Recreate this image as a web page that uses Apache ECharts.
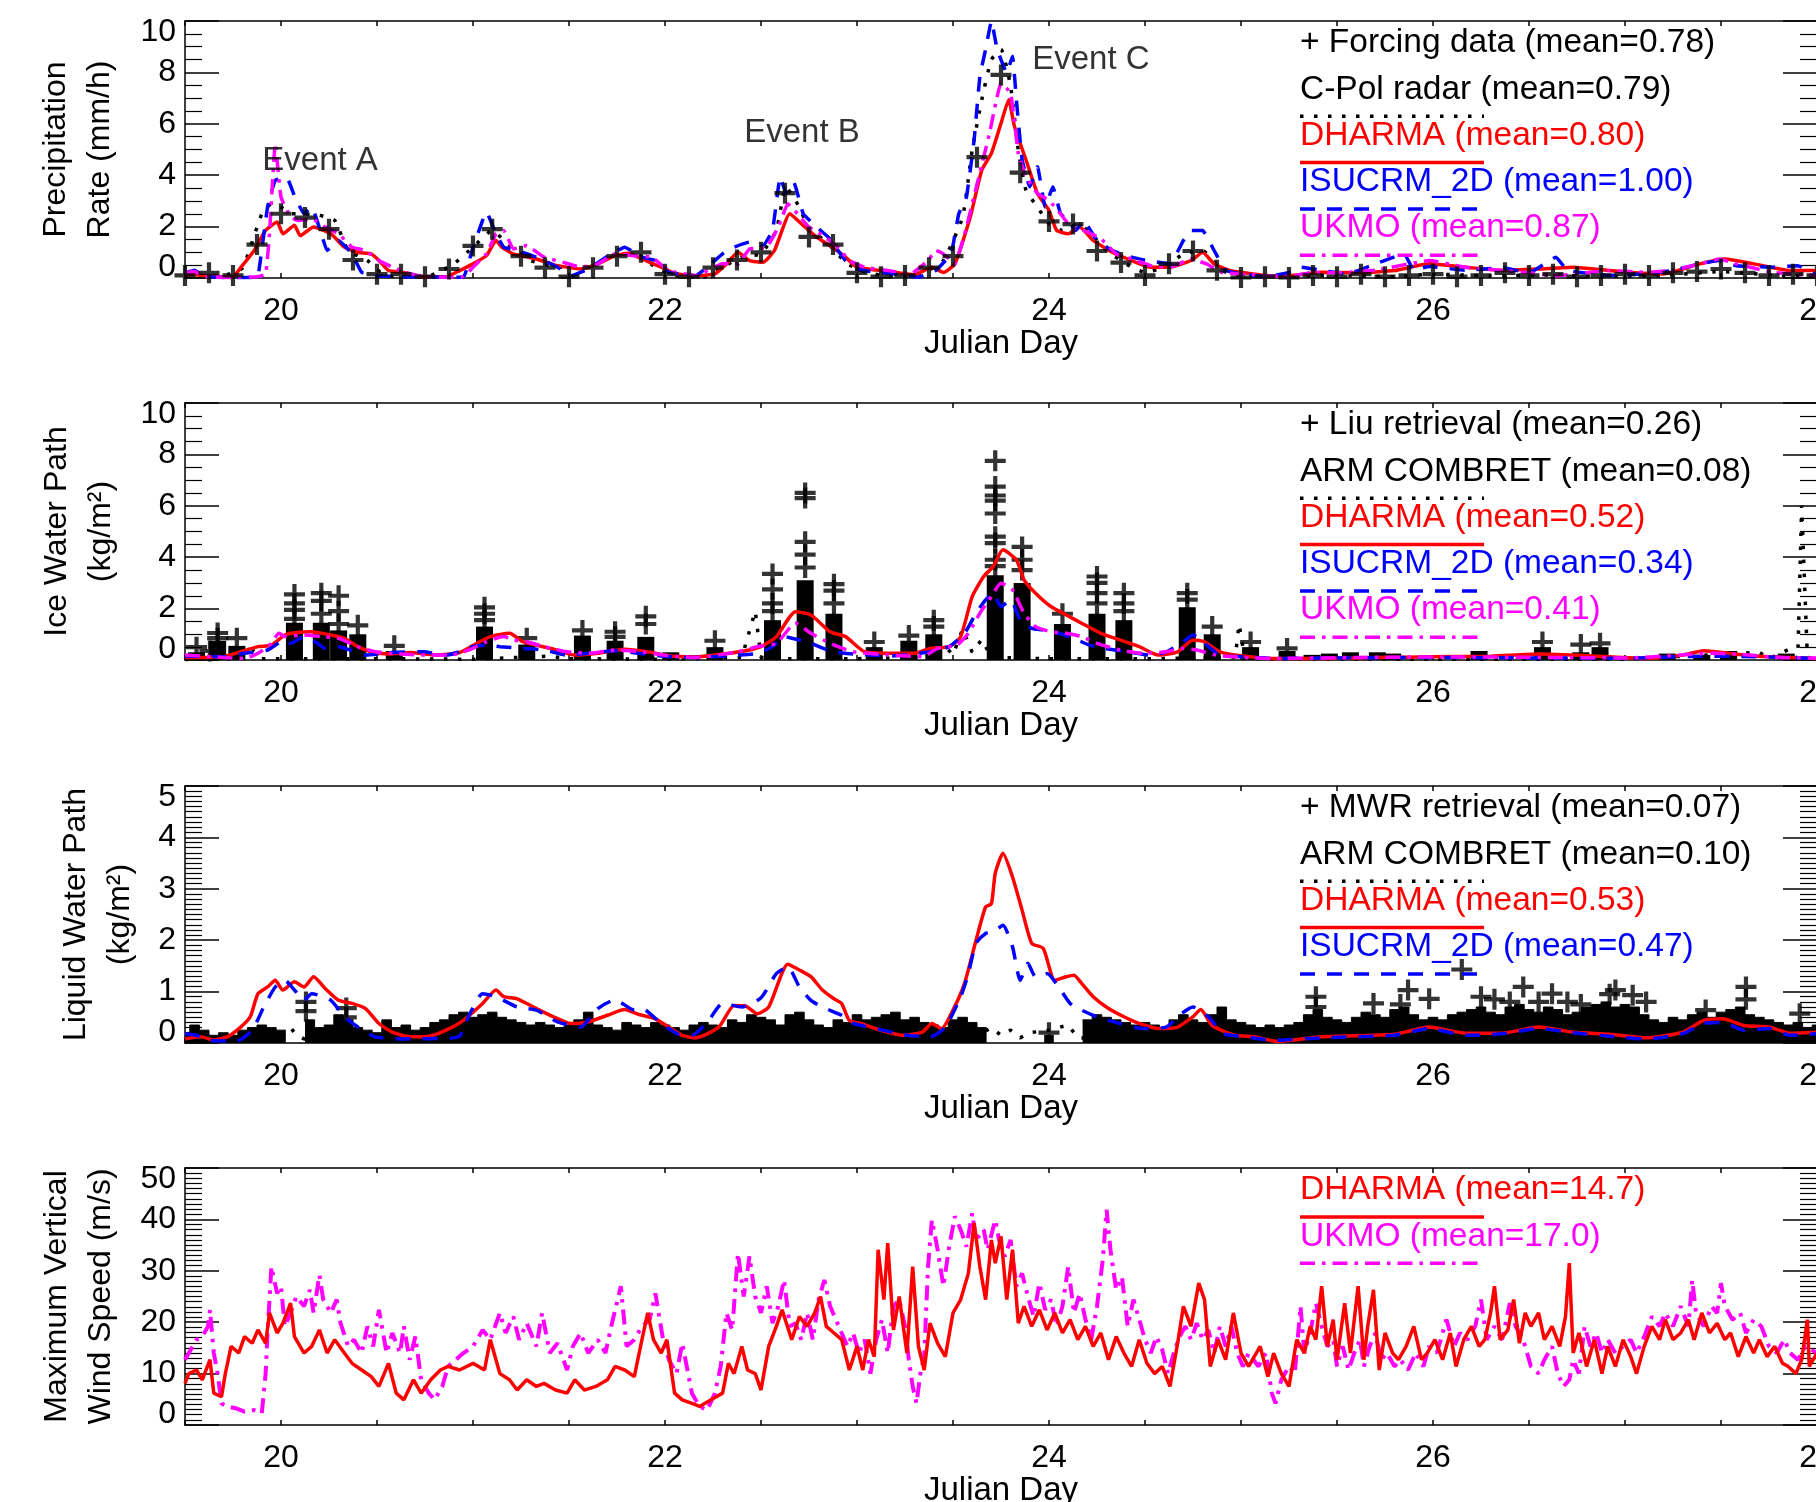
<!DOCTYPE html>
<html>
<head>
<meta charset="utf-8">
<script src="https://cdn.jsdelivr.net/npm/echarts@6/dist/echarts.min.js"></script>
<style>
  html, body { margin: 0; padding: 0; background: #fff; }
  #chart { width: 1816px; height: 1502px; }
</style>
</head>
<body>
<div id="chart"></div>
<script>
// ---------- panel 1: precipitation rate (mm/h) ----------
const prForcing = [[19.5,0.1],[19.625,0.2],[19.75,0.1],[19.875,1.3],[20.0,2.5],[20.125,2.35],[20.25,1.9],[20.375,0.7],[20.5,0.15],[20.625,0.15],[20.75,0.05],[20.875,0.35],[21.0,1.25],[21.1,1.9],[21.25,0.85],[21.375,0.4],[21.5,0.05],[21.625,0.4],[21.75,0.85],[21.875,1.0],[22.0,0.15],[22.125,0.05],[22.25,0.4],[22.375,0.7],[22.5,1.0],[22.625,3.3],[22.75,1.6],[22.875,1.3],[23.0,0.2],[23.125,0.05],[23.25,0.1],[23.375,0.4],[23.5,0.85],[23.625,4.7],[23.75,7.9],[23.85,4.1],[24.0,2.2],[24.125,2.1],[24.25,1.05],[24.375,0.6],[24.5,0.1],[24.625,0.55],[24.75,1.05],[24.875,0.3],[25.0,0.02],[25.125,0.05],[25.25,0.02],[25.375,0.1],[25.5,0.05],[25.625,0.15],[25.75,0.05],[25.875,0.1],[26.0,0.15],[26.125,0.05],[26.25,0.1],[26.375,0.2],[26.5,0.1],[26.625,0.15],[26.75,0.05],[26.875,0.1],[27.0,0.15],[27.125,0.1],[27.25,0.2],[27.375,0.25],[27.5,0.35],[27.625,0.2],[27.75,0.1],[27.875,0.15],[28.0,0.1]];
const prCpol = [[19.5,0.1],[19.7,0.1],[19.8,0.4],[19.9,2.5],[19.95,2.89],[20.0,2.76],[20.05,2.5],[20.1,2.5],[20.2,2.44],[20.28,2.24],[20.35,1.07],[20.45,0.68],[20.52,0.22],[20.6,0.03],[20.75,0.03],[20.9,0.55],[21.0,1.2],[21.1,1.85],[21.18,1.33],[21.3,0.68],[21.45,0.42],[21.6,0.42],[21.75,0.94],[21.85,0.94],[21.95,0.42],[22.05,0.09],[22.2,0.03],[22.3,0.42],[22.4,0.81],[22.5,0.94],[22.58,1.85],[22.63,3.55],[22.68,3.02],[22.75,1.98],[22.85,1.33],[22.95,0.55],[23.05,0.22],[23.2,0.03],[23.35,0.22],[23.45,0.68],[23.55,2.37],[23.6,4.98],[23.65,6.94],[23.7,8.5],[23.75,8.9],[23.8,7.46],[23.84,4.98],[23.88,3.42],[23.94,2.76],[24.0,2.11],[24.07,1.85],[24.15,2.11],[24.22,1.72],[24.3,1.07],[24.4,0.55],[24.5,0.22],[24.6,0.42],[24.7,0.94],[24.8,1.07],[24.9,0.29],[25.0,0.09],[25.2,0.05],[25.5,0.1],[25.8,0.05],[26.0,0.15],[26.3,0.08],[26.6,0.12],[26.9,0.06],[27.2,0.1],[27.5,0.25],[27.8,0.1],[28.0,0.08]];
const prDharma = [[19.5,0.15],[19.6,0.1],[19.7,0.05],[19.75,0.05],[19.79,0.4],[19.86,1.07],[19.92,1.85],[19.98,2.18],[20.01,1.72],[20.07,2.05],[20.1,1.65],[20.17,1.98],[20.26,1.72],[20.33,1.2],[20.4,1.0],[20.47,0.94],[20.51,0.68],[20.56,0.29],[20.63,0.22],[20.74,0.05],[20.86,0.05],[20.93,0.29],[21.0,0.55],[21.07,0.87],[21.12,1.46],[21.15,1.2],[21.21,0.94],[21.33,0.74],[21.44,0.48],[21.56,0.35],[21.65,0.55],[21.74,0.87],[21.81,0.96],[21.88,0.74],[21.98,0.42],[22.05,0.18],[22.16,0.09],[22.26,0.16],[22.32,0.55],[22.38,1.0],[22.44,0.68],[22.51,0.61],[22.57,1.07],[22.65,2.5],[22.71,2.11],[22.79,1.59],[22.87,1.2],[22.94,0.81],[23.0,0.42],[23.1,0.31],[23.2,0.22],[23.3,0.13],[23.39,0.42],[23.45,0.22],[23.51,0.55],[23.59,2.37],[23.65,4.2],[23.7,4.85],[23.75,6.02],[23.79,6.94],[23.82,5.9],[23.88,4.6],[23.94,3.29],[24.0,2.63],[24.04,1.85],[24.1,1.72],[24.16,1.98],[24.23,1.46],[24.33,1.0],[24.43,0.68],[24.53,0.42],[24.63,0.42],[24.74,0.68],[24.8,1.0],[24.86,0.55],[24.94,0.29],[25.04,0.18],[25.15,0.09],[25.25,0.09],[25.42,0.22],[25.6,0.2],[25.8,0.29],[25.98,0.55],[26.17,0.42],[26.35,0.3],[26.55,0.35],[26.73,0.42],[26.92,0.29],[27.05,0.2],[27.2,0.16],[27.39,0.55],[27.52,0.74],[27.67,0.55],[27.86,0.29],[28.0,0.29]];
const prIsu = [[19.5,0.2],[19.55,0.3],[19.6,0.05],[19.7,0.02],[19.85,0.02],[19.88,0.05],[19.93,2.76],[19.97,3.8],[20.03,3.9],[20.07,3.2],[20.12,2.5],[20.16,2.76],[20.21,1.72],[20.24,1.07],[20.3,1.46],[20.37,0.94],[20.42,0.22],[20.49,0.09],[20.63,0.05],[20.86,0.03],[20.95,0.03],[21.0,1.2],[21.05,2.24],[21.07,2.57],[21.12,1.72],[21.16,1.2],[21.23,1.07],[21.33,0.81],[21.44,0.42],[21.51,0.09],[21.6,0.35],[21.72,0.94],[21.79,1.2],[21.88,0.81],[21.95,0.68],[22.02,0.22],[22.16,0.09],[22.22,0.42],[22.3,0.94],[22.36,1.2],[22.44,1.4],[22.51,1.26],[22.56,1.85],[22.6,3.94],[22.63,3.29],[22.67,3.74],[22.72,2.5],[22.79,1.98],[22.85,1.59],[22.94,0.68],[23.0,0.35],[23.1,0.22],[23.2,0.16],[23.32,0.03],[23.41,0.29],[23.49,0.94],[23.53,2.5],[23.57,3.15],[23.61,5.37],[23.64,7.85],[23.67,8.9],[23.7,10.0],[23.73,8.9],[23.78,7.98],[23.81,8.63],[23.83,6.94],[23.86,4.6],[23.9,3.55],[23.94,4.33],[23.98,2.76],[24.02,3.55],[24.06,2.5],[24.1,2.24],[24.14,1.85],[24.18,2.24],[24.25,1.46],[24.33,1.07],[24.43,0.81],[24.51,0.68],[24.63,0.55],[24.7,1.46],[24.74,1.85],[24.8,1.85],[24.86,1.07],[24.92,0.29],[25.0,0.16],[25.13,0.05],[25.25,0.22],[25.31,0.42],[25.42,0.3],[25.55,0.15],[25.7,0.55],[25.85,0.94],[25.9,0.3],[25.98,0.45],[26.17,0.3],[26.36,0.4],[26.5,0.2],[26.64,0.81],[26.7,0.3],[26.92,0.1],[27.11,0.16],[27.25,0.3],[27.39,0.55],[27.49,0.68],[27.58,0.48],[27.77,0.42],[27.9,0.48],[28.0,0.1]];
const prUkmo = [[19.5,0.2],[19.55,0.25],[19.6,0.05],[19.75,0.02],[19.88,0.05],[19.92,0.16],[19.94,1.72],[19.97,5.24],[20.0,3.15],[20.05,2.37],[20.09,2.24],[20.16,2.3],[20.23,1.98],[20.3,1.72],[20.37,1.2],[20.44,1.07],[20.51,0.68],[20.58,0.42],[20.65,0.22],[20.74,0.05],[20.86,0.03],[20.95,0.05],[21.0,0.42],[21.07,0.94],[21.12,1.72],[21.16,1.85],[21.21,1.13],[21.28,1.26],[21.37,0.81],[21.47,0.61],[21.56,0.42],[21.65,0.55],[21.74,0.94],[21.84,0.87],[21.93,0.81],[22.02,0.29],[22.16,0.09],[22.3,0.55],[22.38,0.55],[22.44,1.13],[22.53,1.2],[22.59,1.98],[22.64,2.89],[22.69,2.5],[22.75,1.98],[22.81,1.72],[22.9,1.2],[22.96,0.68],[23.04,0.42],[23.16,0.29],[23.28,0.16],[23.37,0.68],[23.41,1.07],[23.45,0.94],[23.51,0.55],[23.57,1.98],[23.63,3.8],[23.69,5.63],[23.75,7.59],[23.8,7.2],[23.84,4.85],[23.88,3.94],[23.94,3.29],[24.0,3.02],[24.06,2.5],[24.12,1.92],[24.18,1.85],[24.27,1.53],[24.35,0.94],[24.43,0.74],[24.53,0.48],[24.63,0.42],[24.74,0.74],[24.82,0.55],[24.9,0.22],[25.04,0.13],[25.25,0.05],[25.37,0.22],[25.5,0.2],[25.7,0.3],[25.98,0.68],[26.17,0.42],[26.36,0.29],[26.5,0.2],[26.64,0.09],[26.8,0.2],[26.92,0.29],[27.11,0.22],[27.25,0.3],[27.39,0.55],[27.49,0.74],[27.58,0.55],[27.77,0.22],[28.0,0.09]];
const eventLabels = [[19.9,4.57,'Event A'],[22.41,5.63,'Event B'],[23.91,8.48,'Event C']];

// ---------- panel 2: ice water path (kg/m2) ----------
// Liu retrieval: dense stacks of crosses (solid part) + the crosses that stick out
const iwpLiuCols = [[19.56,0.3],[19.67,0.75],[19.77,0.55],[20.07,1.45],[20.21,1.45],[20.3,1.15],[20.4,1.0],[20.59,0.35],[21.06,1.3],[21.28,0.6],[21.57,0.95],[21.74,0.75],[21.9,0.9],[22.03,0.3],[22.26,0.5],[22.56,1.55],[22.73,3.1],[22.88,1.8],[23.09,0.5],[23.27,0.75],[23.4,1.0],[23.72,3.3],[23.86,3.0],[24.07,1.4],[24.25,1.8],[24.39,1.55],[24.72,2.05],[24.85,1.0],[25.05,0.5],[25.24,0.35],[25.37,0.2],[25.46,0.25],[25.57,0.3],[25.71,0.3],[25.79,0.25],[26.24,0.35],[26.57,0.5],[26.77,0.3],[26.87,0.5],[27.22,0.25],[27.4,0.2],[27.54,0.35],[27.84,0.25]];
const iwpLiuCross = [[19.56,0.5],[19.63,0.35],[19.67,1.05],[19.67,0.85],[19.77,0.85],[20.07,1.95],[20.07,2.2],[20.07,2.55],[20.07,1.6],[20.21,2.3],[20.21,2.6],[20.21,1.8],[20.3,2.5],[20.3,1.9],[20.3,1.4],[20.4,1.35],[20.59,0.55],[21.06,1.8],[21.06,2.05],[21.06,1.55],[21.28,0.85],[21.57,1.15],[21.74,1.1],[21.74,0.9],[21.9,1.4],[21.9,1.7],[22.26,0.75],[22.56,2.2],[22.56,2.75],[22.56,3.35],[22.56,1.9],[22.73,3.6],[22.73,4.1],[22.73,4.6],[22.73,6.3],[22.73,6.5],[22.88,2.7],[22.88,2.95],[22.88,2.2],[23.09,0.7],[23.27,0.95],[23.4,1.3],[23.4,1.55],[23.72,3.65],[23.72,3.9],[23.72,4.55],[23.72,4.8],[23.72,5.7],[23.72,6.2],[23.72,6.4],[23.72,6.75],[23.72,7.75],[23.86,3.5],[23.86,3.9],[23.86,4.4],[24.07,1.8],[24.25,2.2],[24.25,2.6],[24.25,3.0],[24.25,3.25],[24.39,2.2],[24.39,2.6],[24.39,1.9],[24.72,2.35],[24.72,2.6],[24.85,1.3],[25.05,0.7],[25.24,0.45],[26.57,0.7],[26.77,0.6],[26.87,0.65]];
const iwpArm = [[19.5,0.02],[19.8,0.05],[19.85,0.4],[19.9,0.05],[20.5,0.05],[21.0,0.03],[21.4,0.15],[21.5,0.05],[22.0,0.03],[22.4,0.1],[22.47,1.9],[22.5,0.1],[22.6,0.05],[23.0,0.05],[23.3,0.1],[23.4,0.15],[23.45,0.6],[23.5,0.2],[23.55,1.2],[23.6,0.3],[23.65,0.8],[23.7,0.1],[24.0,0.05],[24.5,0.05],[24.97,0.1],[24.99,1.4],[25.02,0.05],[26.0,0.03],[27.0,0.03],[27.7,0.3],[27.75,0.05],[27.85,0.4],[27.9,0.05],[27.92,6.0],[27.95,0.1],[28.0,0.05]];
const iwpDharma = [[19.5,0.1],[19.7,0.13],[19.79,0.32],[19.88,0.52],[19.95,0.58],[20.02,0.97],[20.07,1.06],[20.16,1.1],[20.26,0.97],[20.33,0.84],[20.4,0.52],[20.47,0.32],[20.56,0.23],[20.67,0.29],[20.81,0.19],[20.93,0.29],[21.02,0.65],[21.09,0.91],[21.19,1.04],[21.26,0.71],[21.33,0.58],[21.42,0.42],[21.53,0.19],[21.65,0.26],[21.79,0.42],[21.91,0.32],[22.02,0.16],[22.16,0.13],[22.3,0.23],[22.42,0.36],[22.5,0.52],[22.58,0.91],[22.68,1.88],[22.76,1.75],[22.86,1.1],[22.94,0.91],[23.04,0.32],[23.18,0.26],[23.3,0.26],[23.38,0.45],[23.48,0.52],[23.54,0.91],[23.6,2.47],[23.66,3.25],[23.71,3.64],[23.76,4.29],[23.83,3.9],[23.87,3.12],[23.93,2.6],[24.01,2.08],[24.09,1.75],[24.17,1.43],[24.27,1.04],[24.37,0.78],[24.47,0.52],[24.57,0.19],[24.67,0.32],[24.75,0.78],[24.81,0.71],[24.89,0.32],[25.01,0.16],[25.17,0.06],[25.42,0.06],[25.98,0.13],[26.3,0.15],[26.55,0.23],[26.83,0.16],[27.11,0.06],[27.3,0.19],[27.41,0.36],[27.54,0.26],[27.67,0.16],[27.86,0.1],[28.0,0.06]];
const iwpIsu = [[19.5,0.16],[19.7,0.13],[19.81,0.26],[19.93,0.39],[20.02,0.78],[20.05,0.65],[20.12,0.91],[20.19,0.65],[20.23,0.45],[20.3,0.52],[20.37,0.36],[20.44,0.19],[20.58,0.29],[20.74,0.32],[20.86,0.19],[20.93,0.32],[21.0,0.52],[21.07,0.58],[21.14,0.52],[21.26,0.45],[21.37,0.39],[21.49,0.19],[21.6,0.26],[21.74,0.36],[21.86,0.26],[22.02,0.13],[22.16,0.1],[22.38,0.19],[22.48,0.26],[22.56,0.52],[22.62,0.91],[22.7,0.78],[22.76,0.65],[22.86,0.36],[22.98,0.23],[23.18,0.16],[23.38,0.32],[23.48,0.52],[23.56,1.04],[23.62,1.82],[23.67,2.34],[23.71,2.6],[23.75,2.08],[23.8,2.34],[23.85,1.56],[23.91,1.23],[23.97,1.17],[24.05,1.04],[24.13,0.84],[24.21,0.58],[24.29,0.45],[24.41,0.32],[24.53,0.19],[24.61,0.32],[24.69,0.65],[24.75,0.97],[24.81,0.65],[24.89,0.19],[25.01,0.13],[25.17,0.06],[25.5,0.08],[26.0,0.1],[26.5,0.08],[27.0,0.07],[27.4,0.15],[27.6,0.14],[28.0,0.06]];
const iwpUkmo = [[19.5,0.19],[19.7,0.1],[19.81,0.06],[19.88,0.26],[19.95,0.65],[19.99,1.04],[20.02,0.91],[20.12,0.97],[20.21,0.91],[20.3,0.84],[20.4,0.52],[20.49,0.32],[20.63,0.23],[20.77,0.19],[20.88,0.19],[20.98,0.39],[21.07,0.71],[21.16,0.91],[21.21,0.78],[21.28,0.71],[21.37,0.52],[21.49,0.32],[21.6,0.26],[21.74,0.39],[21.88,0.32],[22.02,0.16],[22.16,0.1],[22.38,0.32],[22.48,0.52],[22.58,0.65],[22.68,1.43],[22.76,1.04],[22.86,0.65],[22.98,0.32],[23.18,0.19],[23.34,0.13],[23.42,0.45],[23.52,0.58],[23.58,1.04],[23.64,1.82],[23.7,2.47],[23.75,2.99],[23.81,2.73],[23.87,1.82],[23.93,1.3],[24.01,1.1],[24.09,1.04],[24.17,0.91],[24.25,0.65],[24.37,0.39],[24.49,0.26],[24.61,0.32],[24.69,0.45],[24.77,0.39],[24.87,0.19],[25.01,0.1],[25.17,0.06],[25.6,0.1],[26.1,0.12],[26.6,0.1],[27.0,0.08],[27.3,0.2],[27.45,0.26],[27.6,0.22],[27.8,0.1],[28.0,0.08]];

// ---------- panel 3: liquid water path (kg/m2) ----------
// MWR retrieval: upper edge of the dense black band (null = gap), plus crosses above it
const lwpMwrBand = [[19.5,0.2],[19.55,0.35],[19.6,0.25],[19.65,0.15],[19.7,0.2],[19.75,0.15],[19.8,0.25],[19.85,0.3],[19.9,0.35],[19.95,0.3],[20.0,0.25],[20.05,null],[20.1,null],[20.15,0.45],[20.2,0.3],[20.25,0.35],[20.3,0.55],[20.35,0.45],[20.4,0.3],[20.45,0.25],[20.5,0.2],[20.55,0.45],[20.6,0.3],[20.65,0.35],[20.7,0.25],[20.75,0.3],[20.8,0.4],[20.85,0.45],[20.9,0.55],[20.95,0.6],[21.0,0.5],[21.05,0.55],[21.1,0.6],[21.15,0.5],[21.2,0.45],[21.25,0.4],[21.3,0.35],[21.35,0.4],[21.4,0.35],[21.45,0.3],[21.5,0.35],[21.55,0.45],[21.6,0.6],[21.65,0.35],[21.7,0.3],[21.75,0.25],[21.8,0.4],[21.85,0.35],[21.9,0.3],[21.95,0.4],[22.0,0.35],[22.05,0.3],[22.1,0.25],[22.15,0.35],[22.2,0.4],[22.25,0.35],[22.3,0.3],[22.35,0.45],[22.4,0.4],[22.45,0.55],[22.5,0.5],[22.55,0.45],[22.6,0.35],[22.65,0.55],[22.7,0.6],[22.75,0.45],[22.8,0.35],[22.85,0.3],[22.9,0.45],[22.95,0.4],[23.0,0.55],[23.05,0.45],[23.1,0.5],[23.15,0.55],[23.2,0.6],[23.25,0.45],[23.3,0.5],[23.35,0.4],[23.4,0.35],[23.45,0.3],[23.5,0.45],[23.55,0.5],[23.6,0.4],[23.65,0.3],[23.7,null],[23.75,null],[23.8,null],[23.85,null],[23.9,null],[23.95,null],[24.0,0.15],[24.05,null],[24.1,null],[24.15,null],[24.2,0.45],[24.25,0.55],[24.3,0.5],[24.35,0.45],[24.4,0.4],[24.45,0.35],[24.5,0.4],[24.55,0.35],[24.6,0.3],[24.65,0.45],[24.7,0.55],[24.75,0.45],[24.8,0.4],[24.85,0.55],[24.9,0.7],[24.95,0.45],[25.0,0.4],[25.05,0.35],[25.1,0.3],[25.15,0.35],[25.2,0.3],[25.25,0.35],[25.3,0.4],[25.35,0.55],[25.4,0.65],[25.45,0.5],[25.5,0.45],[25.55,0.4],[25.6,0.5],[25.65,0.6],[25.7,0.55],[25.75,0.5],[25.8,0.65],[25.85,0.7],[25.9,0.55],[25.95,0.45],[26.0,0.5],[26.05,0.45],[26.1,0.55],[26.15,0.6],[26.2,0.65],[26.25,0.7],[26.3,0.6],[26.35,0.55],[26.4,0.7],[26.45,0.75],[26.5,0.65],[26.55,0.6],[26.6,0.7],[26.65,0.65],[26.7,0.55],[26.75,0.6],[26.8,0.7],[26.85,0.75],[26.9,0.8],[26.95,0.7],[27.0,0.75],[27.05,0.7],[27.1,0.55],[27.15,0.45],[27.2,0.4],[27.25,0.5],[27.3,0.45],[27.35,0.55],[27.4,0.6],[27.45,0.5],[27.5,0.6],[27.55,0.65],[27.6,0.7],[27.65,0.55],[27.7,0.5],[27.75,0.45],[27.8,0.4],[27.85,0.35],[27.9,0.4],[27.95,0.3],[28.0,0.35]];
const lwpMwrCross = [[20.13,0.8],[20.13,0.62],[20.34,0.68],[20.34,0.5],[24.0,0.2],[25.39,0.9],[25.39,0.7],[25.69,0.77],[25.83,0.75],[25.87,1.03],[25.98,0.86],[26.15,1.43],[26.25,0.9],[26.32,0.85],[26.4,0.8],[26.47,1.09],[26.55,0.8],[26.62,0.96],[26.7,0.8],[26.77,0.75],[26.92,0.95],[26.95,1.03],[27.04,0.93],[27.11,0.8],[27.42,0.64],[27.63,1.09],[27.63,0.85],[27.91,0.57]];
const lwpArm = [[19.5,0.05],[19.8,0.06],[20.0,0.1],[20.05,0.3],[20.08,0.15],[20.12,0.08],[21.0,0.06],[22.0,0.05],[23.0,0.06],[23.6,0.08],[23.7,0.3],[23.75,0.15],[23.8,0.25],[23.85,0.1],[23.9,0.2],[24.0,0.25],[24.1,0.35],[24.15,0.1],[25.0,0.05],[26.0,0.04],[27.0,0.05],[28.0,0.05]];
const lwpDharma = [[19.5,0.08],[19.58,0.12],[19.65,0.06],[19.72,0.12],[19.79,0.31],[19.84,0.51],[19.88,0.96],[19.93,1.09],[19.97,1.22],[20.01,1.03],[20.07,1.19],[20.12,1.09],[20.17,1.29],[20.23,1.06],[20.3,0.83],[20.37,0.77],[20.44,0.67],[20.51,0.38],[20.58,0.21],[20.67,0.12],[20.77,0.13],[20.86,0.25],[20.95,0.44],[21.05,0.77],[21.12,1.03],[21.16,0.9],[21.23,0.86],[21.33,0.67],[21.42,0.51],[21.51,0.38],[21.6,0.41],[21.7,0.54],[21.79,0.65],[21.86,0.56],[21.95,0.47],[22.02,0.31],[22.09,0.15],[22.16,0.1],[22.28,0.31],[22.36,0.73],[22.42,0.72],[22.48,0.57],[22.54,0.7],[22.64,1.53],[22.7,1.42],[22.76,1.29],[22.82,1.03],[22.88,0.86],[22.92,0.77],[22.96,0.44],[23.02,0.38],[23.12,0.25],[23.24,0.15],[23.34,0.21],[23.39,0.38],[23.44,0.28],[23.5,0.64],[23.56,1.16],[23.62,2.0],[23.67,2.65],[23.7,2.71],[23.72,3.3],[23.76,3.69],[23.81,3.23],[23.86,2.58],[23.91,1.94],[23.97,1.84],[24.03,1.22],[24.09,1.29],[24.13,1.32],[24.17,1.16],[24.23,0.9],[24.31,0.67],[24.39,0.51],[24.47,0.38],[24.57,0.28],[24.67,0.31],[24.75,0.51],[24.79,0.65],[24.85,0.34],[24.97,0.15],[25.07,0.12],[25.19,0.03],[25.42,0.12],[25.8,0.17],[25.98,0.31],[26.17,0.19],[26.36,0.19],[26.55,0.31],[26.73,0.21],[26.92,0.17],[27.11,0.1],[27.3,0.21],[27.41,0.44],[27.51,0.47],[27.62,0.34],[27.75,0.31],[27.86,0.19],[28.0,0.21]];
const lwpIsu = [[19.5,0.18],[19.56,0.15],[19.63,0.05],[19.77,0.04],[19.85,0.25],[19.91,0.7],[19.97,1.09],[20.02,1.22],[20.07,1.03],[20.12,0.83],[20.16,0.96],[20.26,0.83],[20.33,0.51],[20.4,0.31],[20.49,0.12],[20.63,0.08],[20.86,0.09],[20.93,0.13],[20.98,0.54],[21.05,0.96],[21.12,0.9],[21.23,0.7],[21.33,0.64],[21.44,0.41],[21.56,0.31],[21.65,0.67],[21.74,0.84],[21.84,0.64],[21.88,0.67],[21.98,0.38],[22.07,0.17],[22.14,0.15],[22.22,0.4],[22.3,0.77],[22.4,0.7],[22.5,0.88],[22.58,1.35],[22.64,1.48],[22.7,1.09],[22.76,0.83],[22.82,0.7],[22.92,0.54],[22.98,0.38],[23.1,0.28],[23.26,0.15],[23.38,0.12],[23.46,0.31],[23.54,0.9],[23.58,1.35],[23.62,1.94],[23.67,2.13],[23.72,2.19],[23.76,2.29],[23.81,1.87],[23.85,1.22],[23.89,1.55],[23.93,1.29],[23.99,1.35],[24.05,1.09],[24.11,0.77],[24.17,0.64],[24.25,0.51],[24.37,0.38],[24.49,0.28],[24.61,0.31],[24.69,0.57],[24.75,0.7],[24.83,0.51],[24.91,0.18],[25.01,0.13],[25.17,0.05],[25.42,0.1],[25.8,0.15],[25.98,0.28],[26.17,0.15],[26.36,0.18],[26.55,0.28],[26.73,0.2],[26.92,0.13],[27.11,0.08],[27.3,0.18],[27.41,0.38],[27.51,0.4],[27.62,0.25],[27.75,0.28],[27.86,0.15],[28.0,0.18]];

// ---------- panel 4: maximum vertical wind speed (m/s) ----------
const windDharma = [[19.5,8.1],[19.52,10],[19.56,10.7],[19.59,8.8],[19.63,12.7],[19.65,6.2],[19.69,5.5],[19.71,10],[19.74,15.3],[19.78,14],[19.81,17.2],[19.85,15.9],[19.88,18.5],[19.92,15.9],[19.94,21.8],[19.98,17.9],[20.01,19.8],[20.05,23.7],[20.07,17.2],[20.12,14],[20.16,15.3],[20.2,18.5],[20.24,14],[20.28,16.6],[20.33,14],[20.37,12],[20.42,10.7],[20.47,9.4],[20.51,7.5],[20.56,12],[20.6,6.2],[20.64,4.9],[20.69,8.8],[20.73,6.2],[20.78,8.8],[20.83,10.7],[20.87,11.4],[20.93,10.7],[21.0,12],[21.06,10.7],[21.09,16.6],[21.14,10],[21.19,8.8],[21.23,6.8],[21.28,8.8],[21.33,7.5],[21.37,8.1],[21.43,6.8],[21.49,6.2],[21.53,8.8],[21.58,6.8],[21.64,7.5],[21.7,8.8],[21.74,11.4],[21.79,10.7],[21.84,9.4],[21.88,16.6],[21.91,21.8],[21.94,16.6],[21.98,14],[22.01,16.6],[22.05,6.2],[22.09,4.9],[22.14,4.2],[22.18,3.6],[22.24,4.9],[22.3,6.2],[22.33,12],[22.36,10],[22.4,15.3],[22.43,10.7],[22.47,10],[22.5,6.8],[22.54,15.3],[22.58,19.2],[22.61,22.4],[22.66,16.6],[22.7,21.1],[22.74,19.2],[22.78,21.8],[22.81,25],[22.84,19.2],[22.88,17.9],[22.92,16.6],[22.96,10.7],[23.0,15.3],[23.03,10.7],[23.06,16.6],[23.09,13.3],[23.11,34.1],[23.14,24.4],[23.16,35.4],[23.19,18.5],[23.22,25],[23.26,14],[23.29,30.8],[23.32,15.3],[23.35,10.7],[23.38,19.8],[23.42,15.9],[23.46,13.3],[23.5,21.8],[23.54,24.4],[23.58,29.5],[23.61,39.3],[23.64,30.8],[23.67,24.4],[23.7,36],[23.72,31.5],[23.75,36.7],[23.78,24.4],[23.81,34.1],[23.84,19.8],[23.87,23.1],[23.91,19.2],[23.95,22.4],[23.99,18.5],[24.03,21.8],[24.07,17.9],[24.11,20.5],[24.15,16.6],[24.19,19.2],[24.23,15.3],[24.27,17.9],[24.31,12.7],[24.35,17.2],[24.39,14],[24.43,11.4],[24.47,16.6],[24.51,12],[24.55,10],[24.59,11.4],[24.63,7.5],[24.67,15.9],[24.7,23.1],[24.74,19.2],[24.78,27.6],[24.81,24.4],[24.84,11.4],[24.88,16.6],[24.92,12.7],[24.96,21.8],[25.0,14],[25.04,11.4],[25.1,15.3],[25.14,9.4],[25.17,14],[25.21,10],[25.25,7.5],[25.29,16.6],[25.33,14],[25.36,19.2],[25.39,16.6],[25.42,27],[25.45,15.3],[25.48,20.5],[25.5,12.7],[25.54,23.7],[25.57,14],[25.61,27],[25.64,12.7],[25.66,19.2],[25.69,26.3],[25.72,10.7],[25.75,17.9],[25.79,14],[25.82,12.7],[25.86,15.3],[25.9,19.2],[25.94,12.7],[25.97,14],[26.01,16.6],[26.05,12.7],[26.09,17.9],[26.12,11.4],[26.16,16.6],[26.2,19.2],[26.24,15.3],[26.27,16.6],[26.3,21.8],[26.32,27],[26.35,16.6],[26.39,18.5],[26.42,24.4],[26.45,15.9],[26.48,21.8],[26.51,19.2],[26.55,21.8],[26.58,16.6],[26.62,19.2],[26.66,15.3],[26.69,21.1],[26.71,31.5],[26.73,14],[26.76,17.9],[26.8,11.4],[26.84,16.6],[26.88,10],[26.91,15.3],[26.95,11.4],[26.99,16.6],[27.03,13.3],[27.06,10],[27.1,15.3],[27.14,19.2],[27.18,16.6],[27.21,20.5],[27.25,16.6],[27.29,17.9],[27.33,20.5],[27.36,16.6],[27.4,21.8],[27.44,17.9],[27.48,19.8],[27.52,16.6],[27.55,17.9],[27.59,13.3],[27.63,17.2],[27.67,14],[27.7,16.6],[27.74,13.3],[27.78,15.3],[27.82,12],[27.85,11.4],[27.89,10],[27.92,12.7],[27.95,20.5],[27.96,11.4],[28.0,14]];
const windUkmo = [[19.5,12.7],[19.52,14],[19.56,16.6],[19.59,17.2],[19.62,19.2],[19.63,22.4],[19.65,14],[19.67,10],[19.69,4.2],[19.72,3.6],[19.77,3.2],[19.81,2.6],[19.86,2.9],[19.9,2.3],[19.92,10],[19.93,17.9],[19.95,30.8],[19.98,25.6],[20.0,27],[20.02,19.2],[20.05,21.8],[20.08,25],[20.12,23.1],[20.15,26.3],[20.17,21.8],[20.2,29.2],[20.22,24.4],[20.26,21.8],[20.29,24.4],[20.31,19.8],[20.35,15.3],[20.38,16.6],[20.42,14],[20.45,19.2],[20.48,15.3],[20.51,22.4],[20.55,14],[20.58,17.9],[20.62,14],[20.64,19.2],[20.67,12.7],[20.7,17.2],[20.73,8.8],[20.77,6.2],[20.8,4.9],[20.84,7.5],[20.87,11.4],[20.91,12.7],[20.95,14],[21.0,15.3],[21.05,18.5],[21.09,16.6],[21.14,21.8],[21.17,17.9],[21.21,21.1],[21.24,16.6],[21.28,19.8],[21.33,15.3],[21.36,21.8],[21.4,14],[21.44,15.9],[21.49,10.7],[21.52,15.3],[21.56,17.9],[21.6,14],[21.65,16.6],[21.69,14],[21.72,19.2],[21.77,27],[21.8,15.3],[21.84,16.6],[21.88,19.2],[21.92,20.5],[21.95,25.6],[21.99,16.6],[22.02,12.7],[22.06,10],[22.09,15.9],[22.14,6.2],[22.18,3.6],[22.22,2.9],[22.26,6.2],[22.29,11.4],[22.32,21.8],[22.35,18.5],[22.38,33.4],[22.41,25],[22.44,32.8],[22.47,25],[22.5,21.8],[22.53,27],[22.56,19.8],[22.59,23.1],[22.62,28.2],[22.65,19.2],[22.68,19.8],[22.71,16.6],[22.74,21.8],[22.77,16.6],[22.8,24.4],[22.83,28.2],[22.86,23.1],[22.89,20.5],[22.92,17.9],[22.95,15.3],[22.98,17.9],[23.01,14],[23.04,16.6],[23.07,10],[23.1,16.6],[23.13,20.5],[23.16,14],[23.19,23.1],[23.22,24.4],[23.25,19.2],[23.27,12.7],[23.29,7.5],[23.31,4.2],[23.33,10],[23.35,13.3],[23.37,30.8],[23.39,39.9],[23.42,34.1],[23.45,27],[23.48,34.7],[23.51,40.6],[23.54,38],[23.57,34.7],[23.6,41.2],[23.62,36],[23.66,38],[23.68,34.1],[23.72,39.9],[23.74,36],[23.77,32.8],[23.8,36],[23.83,27],[23.86,29.5],[23.89,25],[23.92,21.1],[23.95,27.6],[23.98,22.4],[24.01,24.4],[24.04,19.2],[24.07,23.1],[24.1,30.8],[24.13,21.8],[24.16,25.6],[24.19,20.5],[24.22,16.6],[24.25,23.1],[24.28,32.1],[24.3,41.9],[24.32,34.1],[24.35,26.3],[24.38,28.8],[24.41,19.2],[24.44,24.4],[24.47,20.5],[24.5,16.6],[24.53,14],[24.56,17.2],[24.59,14.6],[24.62,10],[24.65,14],[24.68,17.2],[24.71,19.2],[24.74,16.6],[24.77,19.8],[24.8,16.6],[24.83,18.5],[24.86,14],[24.89,19.2],[24.92,15.3],[24.95,19.2],[24.98,14],[25.01,11.4],[25.04,14],[25.09,11.4],[25.13,14],[25.16,6.2],[25.18,4.2],[25.21,8.8],[25.25,11.4],[25.28,10],[25.31,23.1],[25.33,14],[25.36,17.9],[25.39,23.7],[25.42,19.2],[25.45,15.3],[25.48,16.6],[25.5,11.4],[25.53,15.3],[25.56,10.7],[25.59,14],[25.62,16.6],[25.64,11.4],[25.67,15.3],[25.7,17.9],[25.73,12.7],[25.76,14],[25.8,11.4],[25.83,12.7],[25.87,10.7],[25.91,14],[25.95,11.4],[25.98,15.3],[26.02,14],[26.07,20.5],[26.11,15.3],[26.14,17.9],[26.18,16.6],[26.22,19.2],[26.25,24.4],[26.28,16.6],[26.32,19.2],[26.36,16.6],[26.4,23.7],[26.43,19.2],[26.47,16.6],[26.51,11.4],[26.55,10],[26.58,12.7],[26.62,15.3],[26.65,10],[26.68,7.5],[26.71,8.8],[26.73,12.7],[26.76,10],[26.79,19.2],[26.82,15.3],[26.85,17.9],[26.88,14],[26.91,16.6],[26.95,14],[26.99,15.3],[27.03,16.6],[27.06,14],[27.1,17.2],[27.14,21.1],[27.18,19.2],[27.21,21.8],[27.25,19.2],[27.29,23.1],[27.33,19.2],[27.35,28.2],[27.37,21.8],[27.41,19.2],[27.45,23.1],[27.48,21.8],[27.5,27.6],[27.52,23.1],[27.56,20.5],[27.6,21.8],[27.63,17.9],[27.67,20.5],[27.71,19.2],[27.75,15.3],[27.79,14],[27.83,16.6],[27.86,14],[27.9,12.7],[27.94,15.3],[28.0,14]];

// legend rows per panel: text, colour, line sample under it
const legendRows = [
  [0, '+ Forcing data (mean=0.78)', '#000', null],
  [0, 'C-Pol radar (mean=0.79)', '#000', 'dot'],
  [0, 'DHARMA (mean=0.80)', '#ff0000', 'solid'],
  [0, 'ISUCRM_2D (mean=1.00)', '#0000ff', 'dash'],
  [0, 'UKMO (mean=0.87)', '#ff00ff', 'dashdot'],
  [1, '+ Liu retrieval (mean=0.26)', '#000', null],
  [1, 'ARM COMBRET (mean=0.08)', '#000', 'dot'],
  [1, 'DHARMA (mean=0.52)', '#ff0000', 'solid'],
  [1, 'ISUCRM_2D (mean=0.34)', '#0000ff', 'dash'],
  [1, 'UKMO (mean=0.41)', '#ff00ff', 'dashdot'],
  [2, '+ MWR retrieval (mean=0.07)', '#000', null],
  [2, 'ARM COMBRET (mean=0.10)', '#000', 'dot'],
  [2, 'DHARMA (mean=0.53)', '#ff0000', 'solid'],
  [2, 'ISUCRM_2D (mean=0.47)', '#0000ff', 'dash'],
  [3, 'DHARMA (mean=14.7)', '#ff0000', 'solid'],
  [3, 'UKMO (mean=17.0)', '#ff00ff', 'dashdot'],
];

const FONT = '"Liberation Sans", Arial, Helvetica, sans-serif';
const RED = '#ff0000', BLUE = '#0000ff', MAGENTA = '#ff00ff';
const CROSS = 'path://M8,0H12V20H8ZM0,8H20V12H0Z';
const DASH = { solid: 'solid', dot: [3.5, 10.5], dash: [15, 12], dashdot: [15, 7, 3.5, 7] };

const panels = [
  { top: 21, max: 10, step: 2, minor: 4, name: 'Precipitation\nRate (mm/h)', gap: 63 },
  { top: 403, max: 10, step: 2, minor: 4, name: 'Ice Water Path\n(kg/m²)', gap: 62 },
  { top: 786, max: 5, step: 1, minor: 10, name: 'Liquid Water Path\n(kg/m²)', gap: 43 },
  { top: 1168, max: 50, step: 10, minor: 10, name: 'Maximum Vertical\nWind Speed (m/s)', gap: 62 },
];
const LEFT = 185, WIDTH = 1632, HEIGHT = 257;

const axisLine = { onZero: false, lineStyle: { color: '#000', width: 1.5 } };
const tickStyle = { color: '#000', width: 1.5 };

const grid = [], xAxis = [], yAxis = [];
panels.forEach((p, i) => {
  grid.push({ left: LEFT, top: p.top, width: WIDTH, height: HEIGHT, outerBoundsMode: 'none' });
  const xBase = {
    type: 'value', gridIndex: i, min: 19.5, max: 28, interval: 0.5,
    axisLine, splitLine: { show: false },
    axisTick: { inside: true, length: 5, lineStyle: tickStyle },
  };
  xAxis.push(Object.assign({}, xBase, {
    position: 'bottom',
    name: 'Julian Day', nameLocation: 'middle', nameGap: 49, nameMoveOverlap: false,
    nameTextStyle: { fontSize: 33, fontFamily: FONT, color: '#000' },
    axisLabel: {
      margin: 17, fontSize: 32, fontFamily: FONT, color: '#000',
      formatter: v => (v % 2 === 0 ? String(v) : ''),
    },
  }));
  xAxis.push(Object.assign({}, xBase, { position: 'top', axisLabel: { show: false } }));

  const yBase = {
    type: 'value', gridIndex: i, min: 0, max: p.max, interval: p.step,
    axisLine, splitLine: { show: false },
    axisTick: { inside: true, length: 34, lineStyle: tickStyle },
    minorTick: { show: true, splitNumber: p.minor, length: 17, lineStyle: { color: '#000', width: 1.2 } },
  };
  yAxis.push(Object.assign({}, yBase, {
    position: 'left',
    name: p.name, nameLocation: 'middle', nameGap: p.gap, nameRotate: 90, nameMoveOverlap: false,
    nameTextStyle: { fontSize: 32, lineHeight: 44, fontFamily: FONT, color: '#000' },
    axisLabel: {
      margin: 9, fontSize: 32, fontFamily: FONT, color: '#000',
      // end labels sit a little inside the frame, like the original
      formatter: v => (v === p.max ? '{t|' + v + '}' : v === 0 ? '{b|0}' : String(v)),
      rich: {
        t: { fontSize: 32, fontFamily: FONT, color: '#000', padding: [22, 0, 0, 0] },
        b: { fontSize: 32, fontFamily: FONT, color: '#000', padding: [0, 0, 22, 0] },
      },
    },
  }));
  yAxis.push(Object.assign({}, yBase, { position: 'right', axisLabel: { show: false } }));
});

function line(i, data, color, style, smooth, width) {
  return {
    type: 'line', xAxisIndex: 2 * i, yAxisIndex: 2 * i, data,
    showSymbol: false, symbol: 'none', smooth: smooth || false, z: 4,
    lineStyle: { color, width: width || 3.5, type: DASH[style], cap: 'butt' },
  };
}
function crosses(i, data, z) {
  return {
    type: 'scatter', xAxisIndex: 2 * i, yAxisIndex: 2 * i, data,
    symbol: CROSS, symbolSize: 21, itemStyle: { color: '#000' }, z: z || 3,
  };
}

const series = [
  // panel 1
  line(0, prCpol, '#000', 'dot', 0.15),
  line(0, prDharma, RED, 'solid', 0.15),
  line(0, prIsu, BLUE, 'dash', 0.1),
  line(0, prUkmo, MAGENTA, 'dashdot', 0.1),
  crosses(0, prForcing, 5),
  {
    type: 'scatter', xAxisIndex: 0, yAxisIndex: 0, data: eventLabels,
    symbolSize: 1, itemStyle: { color: 'rgba(0,0,0,0)' }, z: 6,
    label: {
      show: true, position: 'right', distance: 0, formatter: d => d.value[2],
      fontSize: 33, fontFamily: FONT, color: '#000',
    },
  },
  // panel 2
  {
    type: 'bar', xAxisIndex: 2, yAxisIndex: 2, data: iwpLiuCols,
    barWidth: 17, itemStyle: { color: '#000' }, z: 2,
  },
  crosses(1, iwpLiuCross),
  line(1, iwpArm, '#000', 'dot'),
  line(1, iwpDharma, RED, 'solid', 0.2),
  line(1, iwpIsu, BLUE, 'dash', 0.2),
  line(1, iwpUkmo, MAGENTA, 'dashdot', 0.2),
  // panel 3
  {
    type: 'line', xAxisIndex: 4, yAxisIndex: 4,
    data: lwpMwrBand.map(d => [d[0], d[1] === null ? '-' : d[1]]),
    step: 'middle', showSymbol: false, symbol: 'none', connectNulls: false, z: 2,
    lineStyle: { color: '#000', width: 1 }, areaStyle: { color: '#000', opacity: 1 },
  },
  crosses(2, lwpMwrCross),
  line(2, lwpArm, '#000', 'dot'),
  line(2, lwpDharma, RED, 'solid', 0.2),
  line(2, lwpIsu, BLUE, 'dash', 0.2),
  // panel 4
  line(3, windUkmo, MAGENTA, 'dashdot', false, 4),
  line(3, windDharma, RED, 'solid', false, 3.5),
];

// legend: text row, with a sample of the line style underneath
const graphic = [];
const rowCount = [0, 0, 0, 0];
legendRows.forEach(([pi, text, color, style]) => {
  const r = rowCount[pi]++;
  const y = panels[pi].top + 22 + 46.3 * r;
  graphic.push({
    type: 'text', x: 1300, y, z: 10,
    style: { text, fill: color, fontSize: 33.5, fontFamily: FONT, verticalAlign: 'middle', align: 'left' },
  });
  if (style) {
    graphic.push({
      type: 'line', z: 10,
      shape: { x1: 1300, y1: y + 27, x2: 1484, y2: y + 27 },
      style: { stroke: color, lineWidth: 3.5, lineDash: style === 'solid' ? null : DASH[style], lineCap: 'butt' },
    });
  }
});

const chart = echarts.init(document.getElementById('chart'), null, { renderer: 'canvas' });
chart.setOption({
  animation: false,
  backgroundColor: '#fff',
  grid, xAxis, yAxis, series, graphic,
});
</script>
</body>
</html>
